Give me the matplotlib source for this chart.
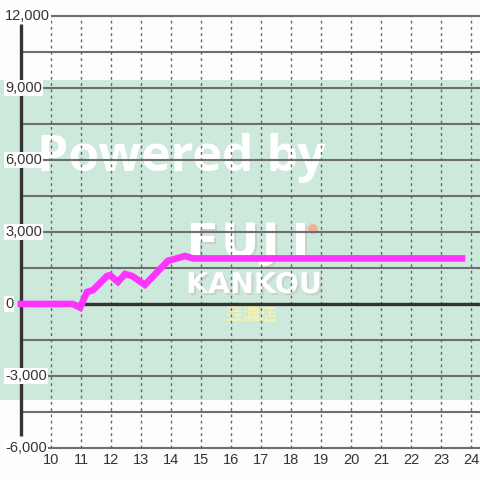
import matplotlib
matplotlib.use("Agg")
import matplotlib.pyplot as plt
import matplotlib.patheffects as pe
from matplotlib.patches import Circle

# ---- data ----
hours = [9.0, 10.73, 10.97, 11.2, 11.4, 11.87, 11.97, 12.23, 12.47, 12.7, 13.13, 13.9, 14.47, 14.73, 23.7]
values = [0, 0, -150, 500, 580, 1170, 1200, 920, 1250, 1170, 800, 1800, 2000, 1900, 1900]
x_ticks = list(range(10, 25))
y_ticks = [-6000, -3000, 0, 3000, 6000, 9000, 12000]
y_grid = list(range(-6000, 12001, 1500))
band_low, band_high = -4000, 9333

W = H = 480
fig = plt.figure(figsize=(4.8, 4.8), dpi=100, facecolor="#fcfefc")
ax = fig.add_axes([0, 0, 1, 1])
ax.set_facecolor("#fcfefc")
x0, x1 = 9 - 21 / 30, 9 + (480 - 21) / 30
y_top = 12000 + 16 / 72 * 3000
y_bot = -6000 - 32 / 72 * 3000
ax.set_xlim(x0, x1)
ax.set_ylim(y_bot, y_top)
ax.axis("off")

# green band
ax.axhspan(band_low, band_high, color="#cde9dc", zorder=0, lw=0)

# watermark (below grid)
def fx(px):
    return px / W
def fy(py):
    return 1 - py / H
ax.text(fx(37), fy(171), "Powered by", transform=ax.transAxes, fontsize=36,
        family="Open Sans", fontweight="bold", color="white", zorder=1,
        ha="left", va="baseline")
shadow = [pe.withSimplePatchShadow(offset=(1.5, -1.5), shadow_rgbFace="#c8ccc8", alpha=0.8)]
fuji_kw = dict(transform=ax.transAxes, family="DejaVu Sans", fontweight="bold",
               ha="left", va="baseline", color="white", zorder=1.1, path_effects=shadow)
for ch, px in zip("FUJI", [187, 221, 262, 292]):
    ax.text(fx(px), fy(257), ch, fontsize=34, **fuji_kw)
ax.text(fx(186), fy(293), "KANKOU", fontsize=20.5, **fuji_kw)
ax.text(fx(251), fy(315), "芸濃店", transform=ax.transAxes, fontsize=12.5,
        family=["Noto Sans CJK JP", "DejaVu Sans"], fontweight="bold", color="#f3f2b0",
        zorder=1.1, ha="center", va="center")
ax.add_patch(Circle((fx(313), fy(229)), 5 / W, transform=ax.transAxes,
                    color="#f4b090", zorder=1.2, lw=0))

# grid lines
ax.hlines(y_grid, 9, x1, colors="#6e6e6e", lw=1.5, zorder=2)
ax.vlines(x_ticks, -6000, 12000, colors="#666666", lw=1, linestyles=(0, (2, 2.5)), zorder=2)
ax.hlines([0], 9, x1, colors="#333333", lw=2.4, zorder=3)
ax.vlines([9], -5500, 11667, colors="#333333", lw=2.4, zorder=3)

# data line
ax.plot(hours, values, color="#ff33ff", lw=4.8, solid_capstyle="projecting",
        solid_joinstyle="miter", zorder=5)

# tick labels
for v in y_ticks:
    lab = f"{v:,}"
    ax.text(x0 + 5 / 30, v, lab, fontsize=10.5, family="Liberation Sans", color="#333333",
            ha="left", va="center", zorder=4,
            bbox=dict(boxstyle="square,pad=0.08", fc="white", ec="none"))
for h in x_ticks:
    ax.text(h, -6000 - 12 / 72 * 3000, str(h), fontsize=10.5, family="Liberation Sans",
            color="#333333", ha="center", va="center", zorder=4)

fig.savefig("out.png", dpi=100, facecolor=fig.get_facecolor())
